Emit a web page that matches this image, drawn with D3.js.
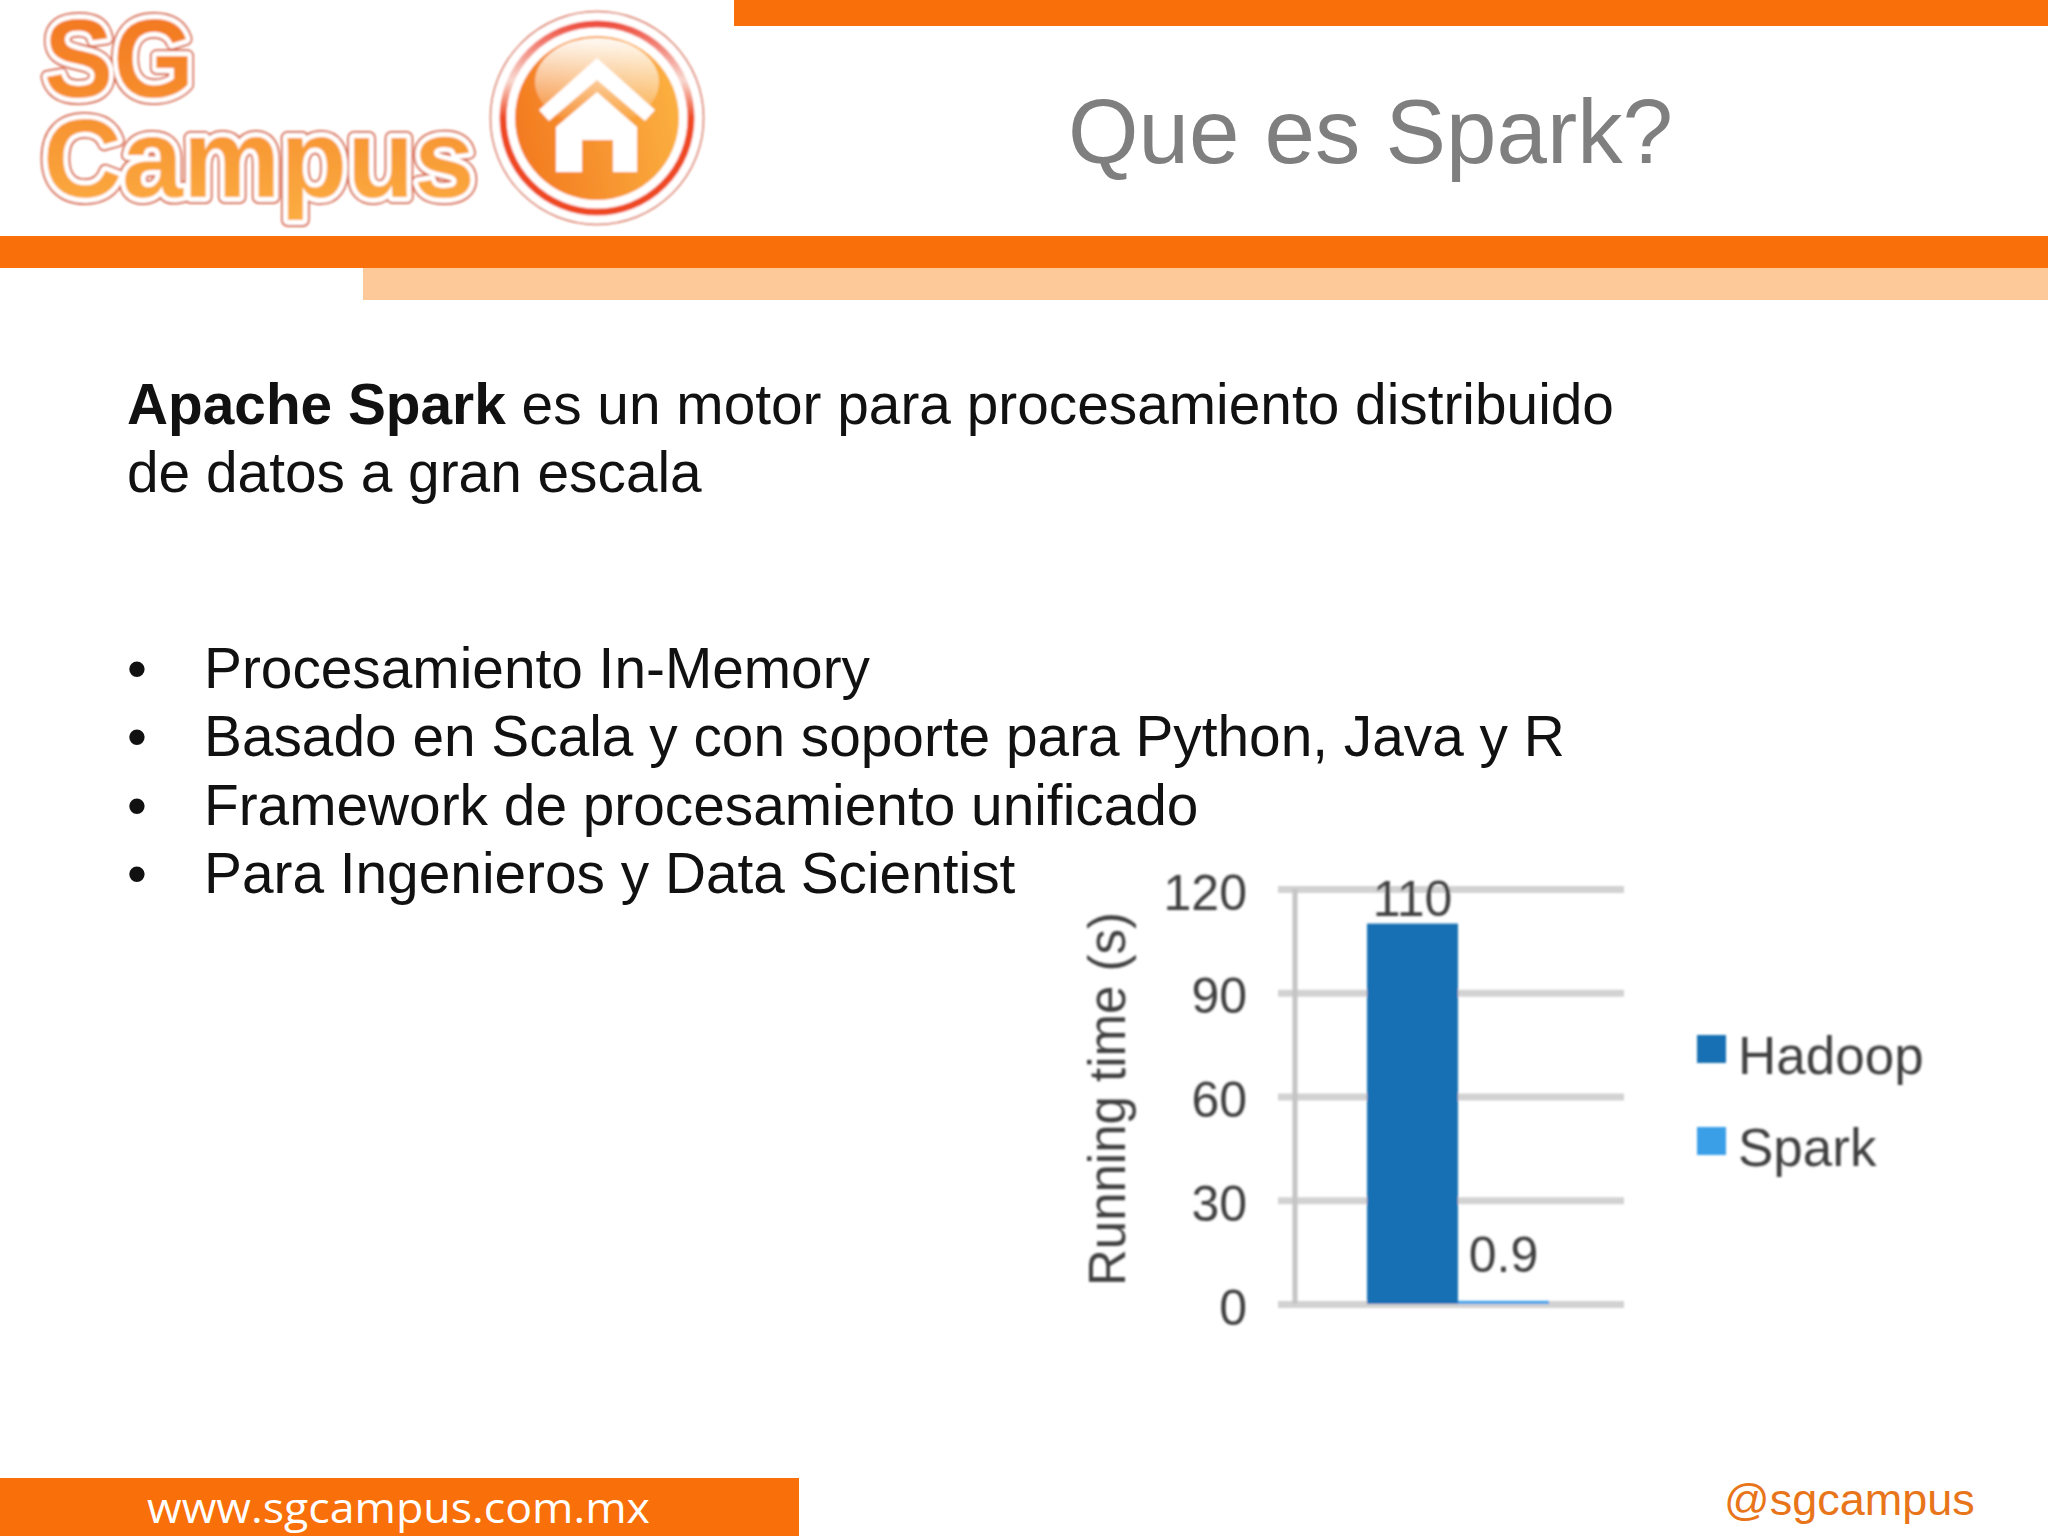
<!DOCTYPE html>
<html>
<head>
<meta charset="utf-8">
<style>
  html, body { margin: 0; padding: 0; background: #fff; }
  svg { display: block; }
  text { font-family: "Liberation Sans", Arial, sans-serif; }
</style>
<script src="https://cdn.jsdelivr.net/npm/d3@7"></script>
</head>
<body>
<script>
const series = ["Hadoop", "Spark"];
const values = [110, 0.9];
const valueLabels = ["110", "0.9"];
const yTicks = [0, 30, 60, 90, 120];
const seriesColors = ["#1570b3", "#3a9fe8"];
const yAxisLabelText = "Running time (s)";

const titleText = "Que es Spark?";
const bullets = [
  "Procesamiento In-Memory",
  "Basado en Scala y con soporte para Python, Java y R",
  "Framework de procesamiento unificado",
  "Para Ingenieros y Data Scientist"
];

const orange = "#f9700a";
const peach = "#fdc998";
const textGrey = "#404040";

const svg = d3.select("body").append("svg")
  .attr("width", 2048)
  .attr("height", 1536);

const defs = svg.append("defs");

const soft = defs.append("filter").attr("id", "soft");
soft.append("feGaussianBlur").attr("stdDeviation", 0.9);

const wordGrad = defs.append("linearGradient").attr("id", "wordGrad")
  .attr("gradientUnits", "userSpaceOnUse")
  .attr("x1", 0).attr("y1", 20).attr("x2", 0).attr("y2", 225);
wordGrad.append("stop").attr("offset", 0).attr("stop-color", "#f37a22");
wordGrad.append("stop").attr("offset", 1).attr("stop-color", "#fbae42");

const ballGrad = defs.append("linearGradient").attr("id", "ballGrad")
  .attr("x1", 0).attr("y1", 0.6).attr("x2", 1).attr("y2", 0.4);
ballGrad.append("stop").attr("offset", 0).attr("stop-color", "#f37a20");
ballGrad.append("stop").attr("offset", 1).attr("stop-color", "#fbb040");

const shineGrad = defs.append("linearGradient").attr("id", "shineGrad")
  .attr("x1", 0).attr("y1", 0).attr("x2", 0).attr("y2", 1);
shineGrad.append("stop").attr("offset", 0).attr("stop-color", "#fff").attr("stop-opacity", 0.95);
shineGrad.append("stop").attr("offset", 1).attr("stop-color", "#fff").attr("stop-opacity", 0);

const ringGrad = defs.append("linearGradient").attr("id", "ringGrad")
  .attr("x1", 0).attr("y1", 0).attr("x2", 0).attr("y2", 1);
ringGrad.append("stop").attr("offset", 0).attr("stop-color", "#ee5040");
ringGrad.append("stop").attr("offset", 0.3).attr("stop-color", "#f8d8d0");
ringGrad.append("stop").attr("offset", 0.5).attr("stop-color", "#ee4a24");
ringGrad.append("stop").attr("offset", 1).attr("stop-color", "#ee4a24");

// header bands
svg.append("rect").attr("x", 734).attr("y", 0).attr("width", 1314).attr("height", 26).attr("fill", orange);
svg.append("rect").attr("x", 0).attr("y", 236).attr("width", 2048).attr("height", 32).attr("fill", orange);
svg.append("rect").attr("x", 363).attr("y", 268).attr("width", 1685).attr("height", 32).attr("fill", peach);

// footer
svg.append("rect").attr("x", 0).attr("y", 1478).attr("width", 799).attr("height", 58).attr("fill", orange);
svg.append("text").attr("x", 147).attr("y", 1523)
  .style("font-family", "'Open Sans'").style("font-size", "42px").attr("fill", "#fff")
  .attr("textLength", 503).attr("lengthAdjust", "spacingAndGlyphs")
  .text("www.sgcampus.com.mx");
svg.append("text").attr("x", 1724).attr("y", 1515)
  .style("font-size", "45px").attr("fill", "#e8751a")
  .text("@sgcampus");

// logo
const logo = svg.append("g").attr("class", "logo").attr("filter", "url(#soft)");

const logoWord = (txt, x, y, size, len) => {
  [["#d9694a", 14], ["#fff", 10], ["url(#wordGrad)", 0]].forEach(([color, w]) => {
    logo.append("text").attr("x", x).attr("y", y)
      .style("font-size", `${size}px`).style("font-weight", "bold")
      .attr("textLength", len).attr("lengthAdjust", "spacingAndGlyphs")
      .attr("fill", w ? color : color)
      .attr("stroke", w ? color : "none")
      .attr("stroke-width", w)
      .attr("stroke-linejoin", "round")
      .text(txt);
  });
};
logoWord("SG", 44, 97, 112, 150);
logoWord("Campus", 43, 197, 112, 432);

logo.append("circle").attr("cx", 597).attr("cy", 118).attr("r", 106.5)
  .attr("fill", "#fff").attr("stroke", "#d9694a").attr("stroke-width", 1.5);
logo.append("circle").attr("cx", 597).attr("cy", 118).attr("r", 94)
  .attr("fill", "none").attr("stroke", "url(#ringGrad)").attr("stroke-width", 7);
logo.append("circle").attr("cx", 597).attr("cy", 118).attr("r", 82)
  .attr("fill", "url(#ballGrad)");
logo.append("ellipse").attr("cx", 597).attr("cy", 82).attr("rx", 62).attr("ry", 44)
  .attr("fill", "url(#shineGrad)");
logo.append("path")
  .attr("d", "M597,58L655,110L645,121L597,80L549,121L539,110Z")
  .attr("fill", "#fff");
logo.append("path")
  .attr("d", "M597,92L637,127V172H613V140H582V172H556V127Z")
  .attr("fill", "#fff");

// title and body text
svg.append("text").attr("x", 1068).attr("y", 163)
  .style("font-size", "90.7px").attr("fill", "#7f7f7f")
  .text(titleText);

const intro = svg.append("text").attr("x", 127).attr("y", 424)
  .style("font-size", "56.8px").attr("fill", "#111");
intro.append("tspan").style("font-weight", "bold").text("Apache Spark");
intro.append("tspan").text(" es un motor para procesamiento distribuido");
svg.append("text").attr("x", 127).attr("y", 492)
  .style("font-size", "56.8px").attr("fill", "#111")
  .text("de datos a gran escala");

const bulletY = d3.scalePoint().domain(bullets).range([688, 893]);
const bulletRows = svg.append("g").selectAll("g").data(bullets).enter().append("g")
  .attr("transform", d => `translate(0, ${bulletY(d)})`);
bulletRows.append("text").attr("x", 127)
  .style("font-size", "56.8px").attr("fill", "#111").text("•");
bulletRows.append("text").attr("x", 204)
  .style("font-size", "56.8px").attr("fill", "#111").text(d => d);

// chart
const chart = svg.append("g").attr("class", "chart").attr("filter", "url(#soft)");

const yScale = d3.scaleLinear().domain([0, 120]).range([1304, 889]);
const xScale = d3.scaleBand().domain(series).range([1367, 1549]);

const gridG = chart.append("g")
  .attr("transform", "translate(1278, 0)")
  .call(d3.axisRight(yScale).tickValues(yTicks).tickSize(346).tickFormat(""));
gridG.select(".domain").remove();
gridG.selectAll("line").attr("stroke", "#d2d2d2").attr("stroke-width", 7);

chart.append("line")
  .attr("x1", 1295).attr("x2", 1295)
  .attr("y1", yScale(120)).attr("y2", yScale(0))
  .attr("stroke", "#c4c4c4").attr("stroke-width", 5);

const yAxisG = chart.append("g")
  .attr("transform", "translate(1278, 0)")
  .call(d3.axisLeft(yScale).tickValues(yTicks).tickSize(0).tickPadding(31));
yAxisG.select(".domain").remove();
yAxisG.selectAll("text")
  .style("font-family", "'Liberation Sans'").style("font-size", "50px")
  .attr("fill", textGrey).attr("dy", "0.4em");

chart.append("text")
  .attr("transform", "translate(1125, 1099) rotate(-90)")
  .style("text-anchor", "middle")
  .style("font-size", "51px").attr("fill", textGrey)
  .text(yAxisLabelText);

chart.selectAll("rect.bar").data(values).enter().append("rect")
  .attr("class", "bar")
  .attr("x", (d, i) => xScale(series[i]))
  .attr("y", d => yScale(d))
  .attr("width", xScale.bandwidth())
  .attr("height", d => yScale(0) - yScale(d))
  .attr("fill", (d, i) => seriesColors[i]);

chart.selectAll("text.value").data(values).enter().append("text")
  .attr("class", "value")
  .attr("x", (d, i) => xScale(series[i]) + xScale.bandwidth() / 2)
  .attr("y", (d, i) => yScale(d) - (i === 0 ? 8 : 29))
  .style("text-anchor", "middle")
  .style("font-size", "50px").attr("fill", textGrey)
  .text((d, i) => valueLabels[i]);

const legendY = d3.scalePoint().domain(series).range([1035, 1127]);
const legendRows = chart.selectAll("g.legend").data(series).enter().append("g")
  .attr("class", "legend")
  .attr("transform", d => `translate(1697, ${legendY(d)})`);
legendRows.append("rect")
  .attr("width", 29).attr("height", 28)
  .attr("fill", (d, i) => seriesColors[i]);
legendRows.append("text")
  .attr("x", 41).attr("y", 39)
  .style("font-size", "53px").attr("fill", textGrey)
  .text(d => d);
</script>
</body>
</html>
